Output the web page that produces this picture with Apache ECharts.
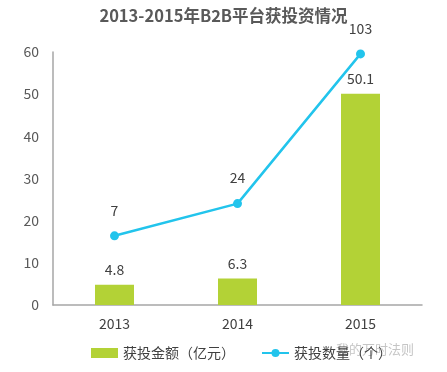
<!DOCTYPE html>
<html><head><meta charset="utf-8">
<script src="https://cdn.jsdelivr.net/npm/echarts@6/dist/echarts.min.js"></script>
<style>html,body{margin:0;padding:0;background:#fff}#c{width:447px;height:372px}</style>
</head><body><div id="c"></div>
<script>
var categories = ['2013', '2014', '2015'];
var amountValues = [4.8, 6.3, 50.1];
var countValues = [7, 24, 103];
var yTicks = [0, 10, 20, 30, 40, 50, 60];

var chart = echarts.init(document.getElementById('c'));
var font = '"Microsoft YaHei","Noto Sans CJK SC",sans-serif';
chart.setOption({
  animation: false,
  textStyle: {fontFamily: font},
  title: {text: '2013-2015年B2B平台获投资情况', left: 'center', top: 2,
    textStyle: {fontSize: 16.5, fontWeight: 'bold', color: '#595959', fontFamily: font}},
  legend: {bottom: 7, left: 86, itemGap: 26, itemWidth: 27, itemHeight: 10,
    textStyle: {fontSize: 14, color: '#404040', fontFamily: font},
    data: [{name: '获投金额（亿元）', icon: 'rect'}, {name: '获投数量（个）'}]},
  grid: {left: 53, right: 25, top: 52, bottom: 67},
  xAxis: {type: 'category', data: categories,
    axisLine: {lineStyle: {color: '#a6a6a6', width: 1.5}}, axisTick: {show: false},
    axisLabel: {fontSize: 14, color: '#404040', margin: 12}},
  yAxis: [{type: 'value', min: yTicks[0], max: yTicks[yTicks.length - 1], interval: 10,
    axisLine: {show: true, lineStyle: {color: '#a6a6a6', width: 1.5}}, axisTick: {show: false},
    splitLine: {show: false}, axisLabel: {fontSize: 14, color: '#595959', margin: 14}},
    {type: 'value', min: -29.5, max: 104, show: false, splitLine: {show: false}}],
  series: [{name: '获投金额（亿元）', type: 'bar', data: amountValues, barWidth: 39,
    itemStyle: {color: '#b3d236'},
    label: {show: true, position: 'top', fontSize: 14, color: '#404040', distance: 8}},
    {name: '获投数量（个）', type: 'line', yAxisIndex: 1, data: countValues,
    symbol: 'circle', symbolSize: 9,
    lineStyle: {color: '#22c4ec', width: 2.5}, itemStyle: {color: '#22c4ec'},
    label: {show: true, position: 'top', fontSize: 14, color: '#404040', distance: 14}}],
  graphic: [{type: 'text', left: 336, top: 343,
    style: {text: '我的万时法则', fontSize: 13, fill: 'rgba(150,150,150,0.55)', fontFamily: font}}]
});
</script></body></html>
